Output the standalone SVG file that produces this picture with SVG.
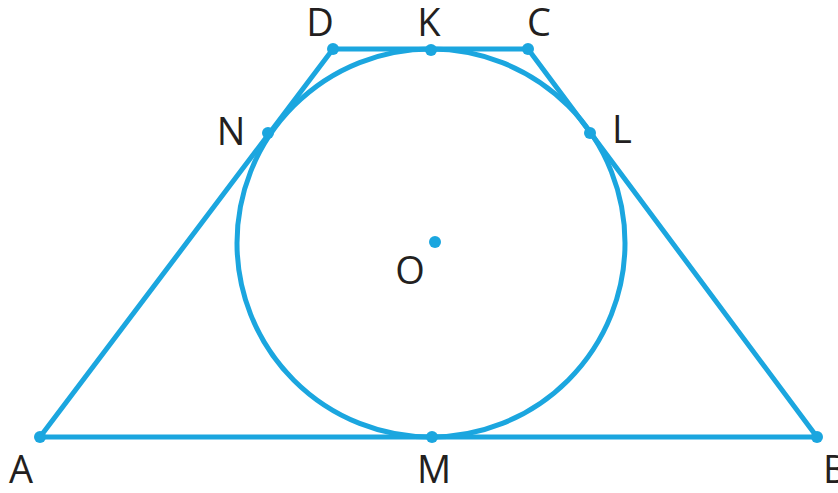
<svg xmlns="http://www.w3.org/2000/svg" width="838" height="493" viewBox="0 0 838 493">
<style>
.ln{fill:none;stroke:#1ba6df;stroke-width:5;stroke-linejoin:round;stroke-linecap:round}
.pt{fill:#1ba6df}
.lb{font-family:"Open Sans","Noto Sans",sans-serif;font-size:38px;fill:#231f20}
</style>
<rect width="838" height="493" fill="#fff"/>
<g id="figure">
<polygon class="ln" points="40,437 817,437 528,49 333,49"/>
<circle class="ln" cx="431" cy="243" r="194"/>
</g>
<g id="points">
<circle class="pt" cx="40" cy="437" r="6"/>
<circle class="pt" cx="817" cy="437" r="6"/>
<circle class="pt" cx="432" cy="437" r="6"/>
<circle class="pt" cx="333" cy="49" r="6"/>
<circle class="pt" cx="431" cy="50" r="6"/>
<circle class="pt" cx="528" cy="49" r="6"/>
<circle class="pt" cx="268" cy="133" r="6"/>
<circle class="pt" cx="590" cy="133" r="6"/>
<circle class="pt" cx="435" cy="242" r="6"/>
</g>
<g id="labels">
<text class="lb" x="320" y="36" text-anchor="middle">D</text>
<text class="lb" x="429" y="36" text-anchor="middle">K</text>
<text class="lb" x="539" y="36" text-anchor="middle">C</text>
<text class="lb" x="231" y="145" text-anchor="middle">N</text>
<text class="lb" x="622" y="143" text-anchor="middle">L</text>
<text class="lb" x="410" y="284" text-anchor="middle">O</text>
<text class="lb" x="21" y="483" text-anchor="middle">A</text>
<text class="lb" x="434" y="483" text-anchor="middle">M</text>
<text class="lb" x="823" y="483">B</text>
</g>
</svg>
